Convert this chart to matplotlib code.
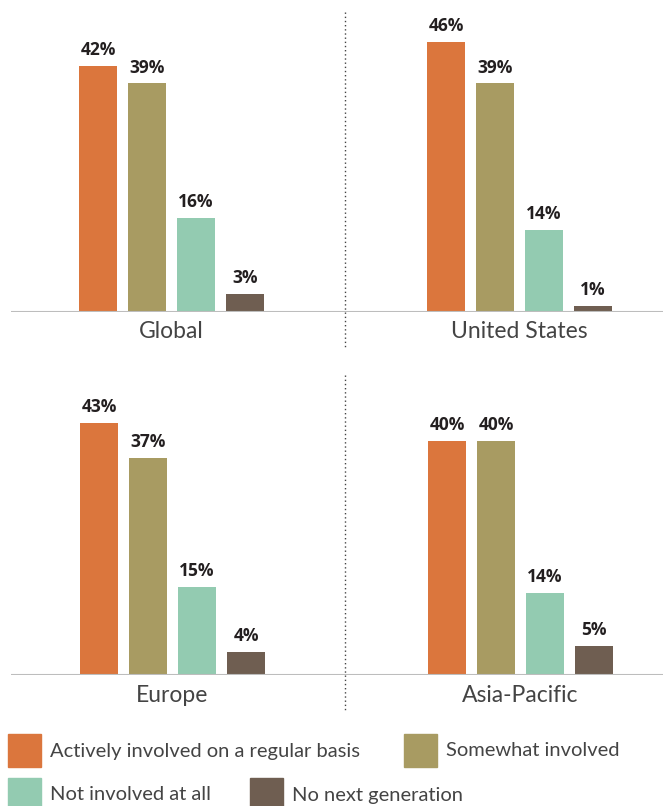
import matplotlib.pyplot as plt
import numpy as np

plt.rcParams['font.family'] = ['Lato', 'DejaVu Sans']

# data
regions = ['Global', 'United States', 'Europe', 'Asia-Pacific']
categories = ['Actively involved on a regular basis', 'Somewhat involved',
              'Not involved at all', 'No next generation']
global_vals = [42, 39, 16, 3]
us_vals = [46, 39, 14, 1]
europe_vals = [43, 37, 15, 4]
apac_vals = [40, 40, 14, 5]
colors = ['#DB763D', '#A89B62', '#93CBB1', '#6F5E51']

W, H = 666, 806
fig = plt.figure(figsize=(W / 100, H / 100), dpi=100)


def px_axes(x0, x1, ytop, ybase):
    return fig.add_axes([x0 / W, 1 - ybase / H, (x1 - x0) / W, (ybase - ytop) / H])


# panel layout: (axes left, axes right, baseline y, first bar center x) in pixels
panels = [
    (11, 340, 312, 98),
    (340, 663, 312, 446),
    (11, 340, 675, 99),
    (340, 663, 675, 447),
]
all_vals = [global_vals, us_vals, europe_vals, apac_vals]
step = 49.0
px_per_pct = 5.86

for (x0, x1, yb, c0), name, vals in zip(panels, regions, all_vals):
    ax = px_axes(x0, x1, yb - 300, yb)
    x = np.arange(len(vals))
    ax.bar(x, vals, width=38 / step, color=colors, zorder=2)
    ax.set_xlim(-(c0 - x0) / step, (x1 - c0) / step)
    ax.set_ylim(0, 300 / px_per_pct)
    ax.axhline(0, color='#BDBDBD', lw=1.5, zorder=3)
    for xi, v in zip(x, vals):
        ax.annotate(f'{v}%', (xi, v), xytext=(0, 5), textcoords='offset points',
                    ha='center', va='bottom', fontsize=12.5, fontweight='bold',
                    color='#231F20', family=['Open Sans', 'DejaVu Sans'])
    ax.axis('off')
    centre = c0 + 1.5 * step
    fig.text(centre / W, 1 - (yb + 20) / H, name, ha='center', va='center',
             fontsize=16.5, color='#444444')

# dotted separators
for y0, y1 in [(12, 348), (375, 712)]:
    fig.add_artist(plt.Line2D([345 / W, 345 / W], [1 - y0 / H, 1 - y1 / H],
                              color='#444444', lw=1, linestyle=(0, (1, 2))))

# legend
legend_pos = [(8, 734, 50), (404, 734, 446), (8, 778, 50), (250, 778, 292)]
for (lx, ly, tx), lab, col in zip(legend_pos, categories, colors):
    fig.add_artist(plt.Rectangle((lx / W, 1 - (ly + 33) / H), 33 / W, 33 / H,
                                 color=col, transform=fig.transFigure))
    fig.text(tx / W, 1 - (ly + 17) / H, lab, ha='left', va='center',
             fontsize=14.5, color='#444444')

fig.savefig('out.png', dpi=100)
